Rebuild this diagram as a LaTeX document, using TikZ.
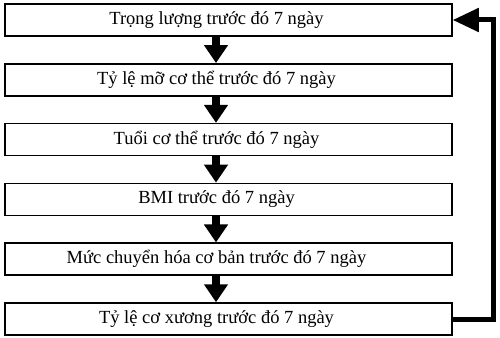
\documentclass[tikz,border=0pt]{standalone}
\usepackage{fontspec}
\setmainfont{Liberation Serif}
\usetikzlibrary{arrows.meta, positioning}

\tikzset{
    stagebox/.style={rectangle, draw=black, line width=1.5pt, minimum width=447pt, minimum height=32pt, inner sep=0pt, font=\fontsize{18.5}{22}\selectfont, execute at end node={\hspace{24pt}}},
    downarrow/.style={line width=8pt, -{Triangle[width=23pt, length=18pt]}},
    looparrow/.style={line width=5pt, -{Triangle[width=23pt, length=26pt]}}
}

\begin{document}
\begin{tikzpicture}[node distance=26.3pt]
    \useasboundingbox (0pt,0pt) rectangle (500pt,-337pt);
    % Stage boxes
    \node[stagebox] (weight) at (228.5pt,-20pt) {Trọng lượng trước đó 7 ngày};
    \node[stagebox, below=of weight] (fat) {Tỷ lệ mỡ cơ thể trước đó 7 ngày};
    \node[stagebox, below=of fat] (age) {Tuổi cơ thể trước đó 7 ngày};
    \node[stagebox, below=of age] (bmi) {BMI trước đó 7 ngày};
    \node[stagebox, below=of bmi] (bmr) {Mức chuyển hóa cơ bản trước đó 7 ngày};
    \node[stagebox, below=of bmr] (muscle) {Tỷ lệ cơ xương trước đó 7 ngày};

    % Down arrows
    \draw[downarrow] ([xshift=-12.5pt]weight.south) -- ([xshift=-12.5pt]fat.north);
    \draw[downarrow] ([xshift=-12.5pt]fat.south) -- ([xshift=-12.5pt]age.north);
    \draw[downarrow] ([xshift=-12.5pt]age.south) -- ([xshift=-12.5pt]bmi.north);
    \draw[downarrow] ([xshift=-12.5pt]bmi.south) -- ([xshift=-12.5pt]bmr.north);
    \draw[downarrow] ([xshift=-12.5pt]bmr.south) -- ([xshift=-12.5pt]muscle.north);

    % Feedback loop
    \draw[looparrow] (muscle.east) -| ([xshift=41pt]weight.east) -- (weight.east);
\end{tikzpicture}
\end{document}
